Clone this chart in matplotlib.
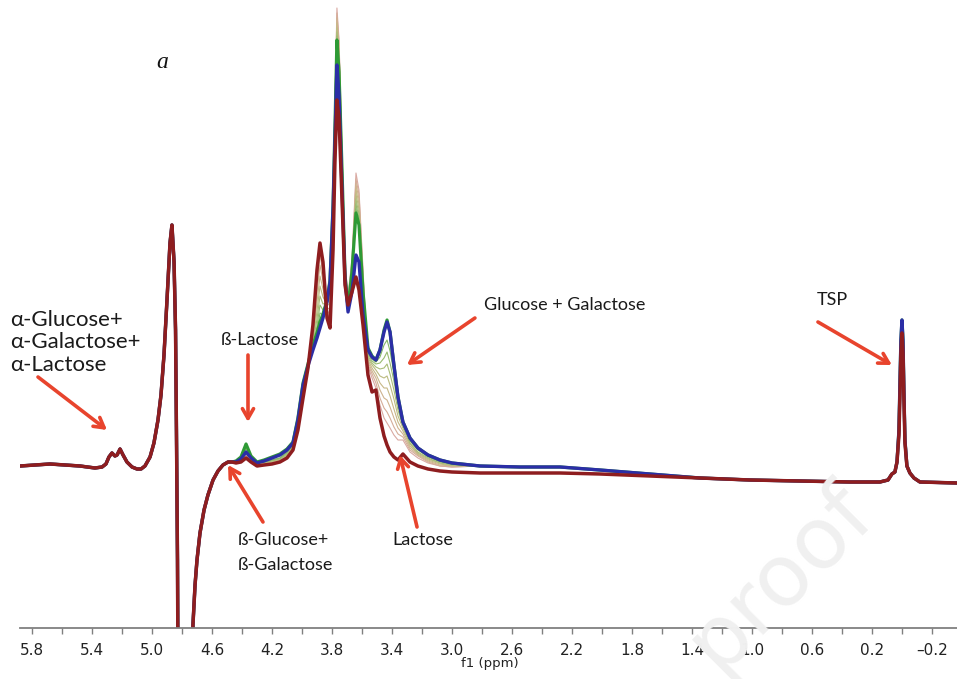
import matplotlib
matplotlib.use("Agg")
import matplotlib.pyplot as plt

# 1H NMR overlay, lactose hydrolysis; ppm vs intensity (a.u.)
ppm_left = [5.88, 5.78, 5.68, 5.58, 5.48, 5.38, 5.333, 5.307, 5.287, 5.267,
            5.247, 5.233, 5.213, 5.193, 5.167, 5.133, 5.10, 5.073, 5.047, 5.013,
            4.987, 4.96, 4.94, 4.92, 4.90, 4.88, 4.867, 4.853, 4.843, 4.837,
            4.83, 4.823, 4.78, 4.733, 4.727, 4.713, 4.70, 4.68, 4.653, 4.627,
            4.593, 4.56, 4.527, 4.493, 4.467]
int_left = [17, 18, 19, 18, 17, 15, 16, 19, 26, 30,
            27, 28, 34, 28, 21, 16, 14, 14, 17, 26,
            40, 63, 88, 128, 183, 240, 258, 221, 153, 53,
            -77, -317, -417, -317, -142, -102, -77, -50, -27, -12,
            3, 12, 18, 21, 21]

ppm_mid = [4.44, 4.407, 4.373, 4.34, 4.30, 4.253, 4.20, 4.147, 4.10, 4.06,
           4.027, 3.993, 3.96, 3.927, 3.90, 3.88, 3.86, 3.833, 3.813, 3.793,
           3.78, 3.767, 3.753, 3.733, 3.713, 3.693, 3.667, 3.64, 3.62, 3.593,
           3.56, 3.533, 3.507, 3.48, 3.453, 3.433, 3.413, 3.387, 3.36, 3.327,
           3.28, 3.227, 3.16, 3.08, 3.00]
lactose_mid = [20, 21, 25, 21, 17, 18, 19, 21, 25, 33,
               53, 85, 115, 158, 213, 240, 221, 165, 155, 233,
               323, 383, 365, 283, 198, 178, 191, 206, 193, 158,
               108, 91, 93, 65, 47, 38, 31, 26, 23, 29,
               21, 17, 14, 12, 11]
mix_1 = [21, 23, 27, 23, 18, 19, 20, 22, 26, 34,
         55, 88, 116, 153, 208, 238, 218, 171, 163, 293,
         383, 475, 443, 333, 218, 188, 223, 310, 293, 213,
         117, 105, 95, 78, 65, 60, 55, 48, 43, 43,
         31, 25, 20, 17, 16]
mix_2 = [21, 23, 28, 23, 18, 19, 20, 22, 26, 34,
         56, 90, 116, 150, 199, 228, 210, 173, 168, 290,
         380, 470, 440, 330, 216, 186, 220, 304, 289, 210,
         119, 109, 100, 85, 75, 71, 65, 56, 49, 46,
         33, 27, 21, 17, 16]
mix_3 = [21, 23, 30, 23, 19, 20, 21, 23, 27, 35,
         57, 91, 116, 147, 190, 218, 202, 175, 174, 287,
         376, 465, 436, 327, 214, 184, 217, 299, 284, 206,
         121, 112, 105, 93, 85, 83, 76, 65, 55, 49,
         35, 28, 22, 18, 17]
mix_4 = [21, 23, 31, 24, 19, 20, 21, 23, 27, 35,
         58, 93, 116, 144, 181, 207, 194, 177, 180, 284,
         372, 460, 431, 324, 212, 182, 215, 294, 279, 202,
         123, 115, 109, 100, 95, 95, 87, 74, 61, 52,
         37, 29, 23, 19, 17]
mix_5 = [21, 23, 32, 24, 19, 20, 22, 24, 28, 36,
         59, 94, 116, 141, 172, 197, 186, 179, 186, 281,
         368, 455, 426, 321, 210, 180, 213, 289, 274, 199,
         125, 118, 113, 107, 105, 107, 98, 84, 67, 55,
         39, 30, 24, 20, 18]
mix_6 = [21, 23, 34, 24, 20, 21, 22, 24, 29, 37,
         60, 95, 116, 139, 164, 187, 179, 180, 191, 279,
         364, 451, 421, 318, 208, 178, 212, 284, 269, 196,
         127, 120, 116, 114, 115, 119, 109, 93, 73, 57,
         40, 31, 25, 20, 18]
mix_7 = [21, 23, 35, 25, 20, 21, 23, 25, 30, 38,
         61, 96, 116, 137, 157, 178, 173, 181, 196, 277,
         361, 447, 417, 315, 206, 176, 211, 279, 265, 193,
         129, 122, 119, 120, 125, 131, 120, 102, 78, 59,
         42, 33, 26, 21, 19]
mix_8 = [21, 23, 37, 25, 20, 21, 23, 25, 31, 38,
         62, 97, 117, 136, 151, 170, 168, 182, 199, 276,
         358, 444, 413, 312, 205, 175, 210, 274, 260, 190,
         131, 124, 121, 126, 138, 143, 132, 110, 82, 60,
         43, 34, 27, 22, 19]
green_mid = [22, 26, 39, 27, 21, 23, 26, 29, 34, 41,
             65, 100, 119, 138, 150, 161, 169, 183, 203, 278,
             358, 443, 411, 313, 208, 175, 211, 270, 258, 191,
             135, 127, 123, 133, 153, 163, 151, 118, 86, 61,
             45, 35, 28, 23, 20]
final_mid = [21, 24, 31, 25, 20, 22, 25, 28, 33, 40,
             63, 98, 117, 133, 145, 155, 165, 181, 201, 273,
             343, 418, 388, 293, 203, 171, 191, 228, 221, 168,
             133, 126, 123, 133, 151, 161, 151, 118, 86, 61,
             45, 35, 28, 23, 20]

ppm_right = [2.813, 2.547, 2.28, 2.013, 1.68, 1.347, 1.013, 0.68, 0.347, 0.147,
             0.093, 0.067, 0.047, 0.033, 0.02, 0.013, 0.007, 0.0, -0.007, -0.013,
             -0.02, -0.033, -0.053, -0.08, -0.12, -0.367]
int_right = [17, 16, 16, 13, 9, 5, 3, 2, 1, 1,
             3, 9, 11, 21, 53, 103, 143, 163, 143, 93,
             43, 17, 10, 5, 1, 0]
lactose_right = [10, 10, 10, 9, 7, 5, 3, 2, 1, 1,
                 3, 9, 11, 21, 48, 90, 130, 150, 130, 85,
                 40, 17, 10, 5, 1, 0]

major_ticks = [5.8, 5.4, 5.0, 4.6, 4.2, 3.8, 3.4, 3.0, 2.6, 2.2, 1.8, 1.4, 1.0, 0.6, 0.2, -0.2]
minor_ticks = [5.6, 5.2, 4.8, 4.4, 4.0, 3.6, 3.2, 2.8, 2.4, 2.0, 1.6, 1.2, 0.8, 0.4, 0.0]

ppm_all = ppm_left + ppm_mid + ppm_right

fig = plt.figure(figsize=(9.57, 6.79), dpi=100)
ax = fig.add_axes([20 / 957, 51 / 679, 937 / 957, 628 / 679])

mixes = [mix_1, mix_2, mix_3, mix_4, mix_5, mix_6, mix_7, mix_8]
mix_colors = ["#d9a9a2", "#d5ad99", "#cfb38f", "#c7b887", "#bbbb80",
              "#aabd78", "#98bb70", "#84b767"]
for series, c in zip(mixes, mix_colors):
    ax.plot(ppm_all, int_left + series + int_right, color=c, lw=0.8)
ax.plot(ppm_all, int_left + green_mid + int_right, color="#2e9a35", lw=2.3)
ax.plot(ppm_all, int_left + final_mid + int_right, color="#2b2ea6", lw=2.4)
ax.plot(ppm_all, int_left + lactose_mid + lactose_right, color="#8e1d1f", lw=2.5)

ax.set_xlim(5.88, -0.367)
ax.set_ylim(-145, 483)
for s in ["top", "left", "right"]:
    ax.spines[s].set_visible(False)
ax.spines["bottom"].set_color("#808080")
ax.spines["bottom"].set_linewidth(1.3)
ax.set_yticks([])
ax.set_xticks(major_ticks)
ax.set_xticklabels([f"{t:.1f}".replace("-", "\u2013") for t in major_ticks])
ax.set_xticks(minor_ticks, minor=True)
ax.tick_params(axis="x", which="both", direction="out", length=4, width=1,
               color="#808080", pad=7, labelsize=11, labelcolor="#222222")
fig.text(490 / 957, 1 - 664 / 679, "f1 (ppm)", ha="center", va="center",
         fontsize=9.5, color="#222222")

# watermark
fig.text(0.815, 0.15, "proof", rotation=45, fontsize=62, color="#f0f0f0",
         ha="center", va="center", zorder=0)

red = "#e8442d"
ink = "#1a1a1a"
font = ["Lato", "DejaVu Sans"]
arrow = dict(arrowstyle="->,head_length=0.7,head_width=0.4", color=red, lw=2.6,
             shrinkA=0, shrinkB=0)

for yv, line in zip([163, 141, 118], ["\u03b1-Glucose+", "\u03b1-Galactose+", "\u03b1-Lactose"]):
    ax.text(5.947, yv, line, ha="left", va="center", fontsize=16, family=font, color=ink)
ax.annotate("", xy=(5.30, 53), xytext=(5.76, 106), arrowprops=arrow)

ax.text(4.28, 143, "\u00df-Lactose", ha="center", va="center", fontsize=13,
        family=font, color=ink)
ax.annotate("", xy=(4.36, 61), xytext=(4.36, 128), arrowprops=arrow)

for yv, line in zip([-57, -82], ["\u00df-Glucose+", "\u00df-Galactose"]):
    ax.text(4.427, yv, line, ha="left", va="center", fontsize=13, family=font, color=ink)
ax.annotate("", xy=(4.493, 18), xytext=(4.26, -39), arrowprops=arrow)

ax.text(3.193, -57, "Lactose", ha="center", va="center", fontsize=13,
        family=font, color=ink)
ax.annotate("", xy=(3.347, 28), xytext=(3.233, -44), arrowprops=arrow)

ax.text(2.247, 178, "Glucose + Galactose", ha="center", va="center", fontsize=13,
        family=font, color=ink)
ax.annotate("", xy=(3.30, 118), xytext=(2.847, 165), arrowprops=arrow)

ax.text(0.467, 183, "TSP", ha="center", va="center", fontsize=13,
        family=font, color=ink)
ax.annotate("", xy=(0.067, 118), xytext=(0.56, 161), arrowprops=arrow)

ax.text(4.933, 421, "a", ha="center", va="center", fontsize=17,
        family="Liberation Serif", style="italic", color="#111111")

fig.savefig("out.png", dpi=100)
